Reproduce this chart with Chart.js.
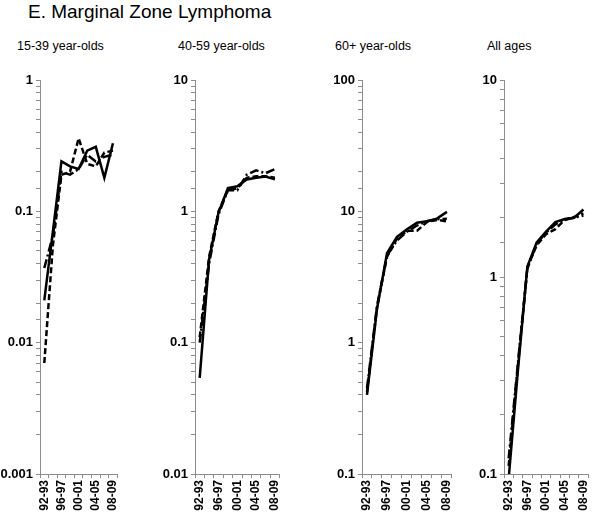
<!DOCTYPE html>
<html>
<head>
<meta charset="utf-8">
<script src="https://cdn.jsdelivr.net/npm/chart.js@4/dist/chart.umd.min.js"></script>
<style>
  body { margin: 0; background: #fff; font-family: "Liberation Sans", Arial, sans-serif; }
  #page { position: relative; width: 600px; height: 515px; overflow: hidden; }
  .title { position: absolute; left: 28px; top: 1px; font-size: 19px; color: #000; white-space: nowrap; }
  .sub { position: absolute; top: 39px; font-size: 12.5px; color: #000; white-space: nowrap; }
  canvas { position: absolute; top: 66px; }
</style>
</head>
<body>
<div id="page">
  <div class="title">E. Marginal Zone Lymphoma</div>
  <div class="sub" style="left:17px">15-39 year-olds</div>
  <div class="sub" style="left:178px">40-59 year-olds</div>
  <div class="sub" style="left:335px">60+ year-olds</div>
  <div class="sub" style="left:487px">All ages</div>
  <canvas id="c1" width="130" height="449" style="left:0px"></canvas>
  <canvas id="c2" width="142" height="449" style="left:150px"></canvas>
  <canvas id="c3" width="164" height="449" style="left:300px"></canvas>
  <canvas id="c4" width="145" height="449" style="left:455px"></canvas>
</div>
<script>
// Categories
const periods = ['92-93', '94-95', '96-97', '98-99', '00-01', '02-03', '04-05', '06-07', '08-09'];

// 15-39 year-olds
const young_solid   = [0.021, 0.07, 0.24, 0.22, 0.21, 0.29, 0.31, 0.18, 0.33];
const young_dashed  = [0.007, 0.055, 0.19, 0.20, 0.36, 0.23, 0.22, 0.28, 0.29];
const young_dashdot = [0.037, 0.065, 0.20, 0.19, 0.21, 0.27, 0.24, 0.26, 0.27];

// 40-59 year-olds
const middle_solid   = [0.054, 0.43, 0.98, 1.5, 1.55, 1.75, 1.8, 1.84, 1.75];
const middle_dashed  = [0.11, 0.45, 1.0, 1.45, 1.5, 1.8, 1.85, 1.85, 1.8];
const middle_dashdot = [0.10, 0.40, 0.95, 1.45, 1.45, 1.9, 2.05, 1.95, 2.1];

// 60+ year-olds
const older_solid   = [0.40, 1.8, 4.8, 6.4, 7.3, 8.2, 8.4, 8.8, 9.9];
const older_dashed  = [0.42, 1.85, 4.5, 6.2, 7.1, 7.1, 8.3, 8.6, 8.4];
const older_dashdot = [0.45, 1.9, 4.6, 6.0, 7.0, 7.8, 8.4, 8.7, 8.8];

// All ages
const all_solid   = [0.095, 0.34, 1.13, 1.5, 1.7, 1.9, 1.97, 2.0, 2.2];
const all_dashed  = [0.11, 0.36, 1.12, 1.45, 1.65, 1.75, 1.95, 2.02, 2.1];
const all_dashdot = [0.12, 0.37, 1.1, 1.48, 1.68, 1.85, 1.95, 2.0, 2.05];

// Axis ranges (log)
const young_range  = [0.001, 1];
const middle_range = [0.01, 10];
const older_range  = [0.1, 100];
const all_range    = [0.1, 10];

const axisGray = '#8c8c8c';

function isDecade(v) {
  const l = Math.log10(v);
  return Math.abs(l - Math.round(l)) < 1e-6;
}

function makeLine(data, dash) {
  return {
    data: data,
    borderColor: '#000',
    borderWidth: 2.5,
    borderDash: dash,
    pointRadius: 0,
    tension: 0,
    fill: false
  };
}

function drawPanel(id, range, solid, dashed, dashdot, yWidth, padRight) {
  const ctx = document.getElementById(id).getContext('2d');
  return new Chart(ctx, {
    type: 'line',
    data: {
      labels: periods,
      datasets: [
        makeLine(dashdot, [9, 3, 2, 3]),
        makeLine(dashed, [6, 3]),
        makeLine(solid, [])
      ]
    },
    options: {
      responsive: false,
      animation: false,
      layout: { padding: { top: 14, right: padRight, bottom: 0, left: 0 } },
      plugins: {
        legend: { display: false },
        title: { display: false },
        tooltip: { enabled: false }
      },
      scales: {
        x: {
          type: 'category',
          offset: true,
          border: { display: true, color: axisGray, width: 1 },
          grid: { display: true, offset: true, drawOnChartArea: false, drawTicks: true, tickLength: 4, color: axisGray },
          ticks: {
            autoSkip: false,
            maxRotation: 90,
            minRotation: 90,
            padding: 2,
            color: '#000',
            font: { family: 'Liberation Sans', size: 12, weight: 'bold' },
            callback: function (val, i) {
              return i % 2 === 0 ? periods[i] : '';
            }
          },
          afterFit: function (s) { s.height = 41; }
        },
        y: {
          type: 'logarithmic',
          min: range[0],
          max: range[1],
          border: { display: true, color: axisGray, width: 1 },
          grid: { display: true, drawOnChartArea: false, drawTicks: true, tickLength: 4, color: axisGray },
          ticks: {
            autoSkip: false,
            padding: 3,
            color: '#000',
            font: { family: 'Liberation Sans', size: 13, weight: 'bold' },
            callback: function (v) {
              return isDecade(v) ? String(Number(v.toPrecision(1))) : '';
            }
          },
          afterFit: function (s) { s.width = yWidth; }
        }
      }
    }
  });
}

drawPanel('c1', young_range, young_solid, young_dashed, young_dashdot, 40, 12);
drawPanel('c2', middle_range, middle_solid, middle_dashed, middle_dashdot, 45, 12);
drawPanel('c3', older_range, older_solid, older_dashed, older_dashdot, 62, 12);
drawPanel('c4', all_range, all_solid, all_dashed, all_dashdot, 49, 3);
</script>
</body>
</html>
